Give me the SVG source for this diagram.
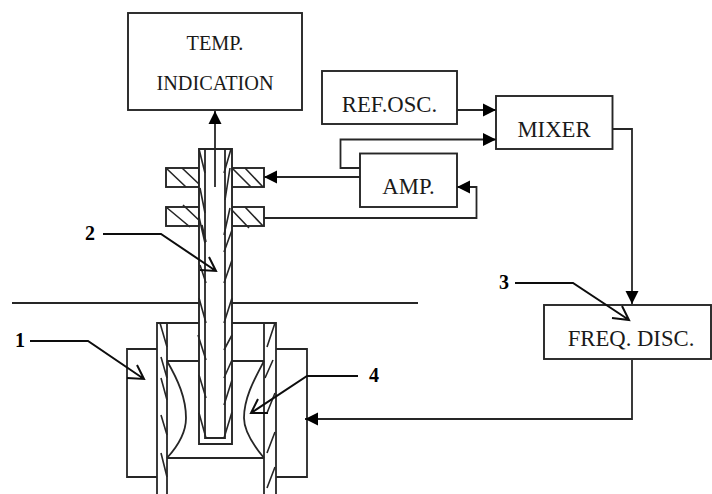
<svg xmlns="http://www.w3.org/2000/svg" width="712" height="494" viewBox="0 0 712 494">
<style>
.s{fill:none;stroke:#262626;stroke-width:1.8}
.b{fill:#fff;stroke:#262626;stroke-width:1.9}
.h{fill:none;stroke:#262626;stroke-width:1.6}
.l{fill:none;stroke:#0d0d0d;stroke-width:2}
.t{font-family:"Liberation Serif","Times New Roman",serif;font-size:22.700px;fill:#1a1a1a;text-anchor:middle}
.u{font-family:"Liberation Serif","Times New Roman",serif;font-size:20.300px;fill:#1a1a1a;text-anchor:middle}
.n{font-family:"Liberation Serif","Times New Roman",serif;font-size:20px;font-weight:bold;fill:#000;text-anchor:middle}
</style>
<defs>
<marker id="a" markerUnits="userSpaceOnUse" markerWidth="14" markerHeight="14" refX="13" refY="7" orient="auto"><path d="M0 0.500L13 7L0 13.500Z" fill="#000"/></marker>
</defs>
<rect width="712" height="494" fill="#fff"/>
<g id="ground-line"><path class="s" d="M12 303H199M232 303H418"/></g>
<g id="left-block"><path class="s" d="M157 349H127V477H157"/></g>
<g id="right-block"><path class="s" d="M276 349H307V477H276"/></g>
<g id="outer-tube">
<path class="s" d="M157 494V323H276V494M167 494V323M264 494V323M167 361H199M232 361H264M167 458H264"/>
<path class="h" d="M160 323L167 347M161 357L167 378M161 378L167 400M161 415L167 435M161 453L167 477M275 323L267 347M273 360L265 378M275 393L267 413M275 432L267 453M275 467L267 488"/>
<path class="s" d="M167 361C178 380 186 398 186 418C186 432 178 446 167 458M264 361C254 380 244 398 244 418C244 432 254 446 264 458"/>
</g>
<g id="upper-flange">
<rect class="b" x="166" y="168" width="33" height="19"/><rect class="b" x="232" y="168" width="32" height="19"/>
<path class="h" d="M166 168L186 187M182 168L200 185M232 168L251 187M245 168L263 187"/>
</g>
<g id="lower-flange">
<rect class="b" x="166" y="207" width="33" height="19"/><rect class="b" x="232" y="207" width="32" height="19"/>
<path class="h" d="M166 207L190 227M183 205L203 224M230 208L249 228M245 207L263 226"/>
</g>
<g id="probe">
<path class="b" d="M199 149H232V444H199Z"/>
<path class="s" d="M205 149V438H225V149"/>
<path class="h" d="M199 149L205 173M200 188L205 213M199 217L205 243M202 225L206 242M200 265L206 283M199 298L206 323M198 335L206 360M199 375L206 398M199 413L206 438M231 149L224 173M230 168L225 200M230 208L224 235M232 230L224 252M232 260L224 283M232 298L224 323M232 335L224 350M232 360L224 378M232 380L224 405M232 412L224 438"/>
</g>
<g id="temp-indication"><rect class="b" x="128" y="13" width="174" height="97"/>
<text class="u" x="215" y="50">TEMP.</text><text class="u" x="215" y="90">INDICATION</text></g>
<g id="ref-osc"><rect class="b" x="322" y="71" width="135" height="53"/><text class="t" x="389.500" y="112">REF.OSC.</text></g>
<g id="mixer"><rect class="b" x="496" y="96" width="116.500" height="53"/><text class="t" x="554" y="137">MIXER</text></g>
<g id="amp"><rect class="b" x="360" y="153.500" width="97" height="53.500"/><text class="t" x="408.500" y="194">AMP.</text></g>
<g id="freq-disc"><rect class="b" x="544" y="305" width="167" height="54"/><text class="t" x="631" y="346">FREQ. DISC.</text></g>
<g id="connectors">
<path class="s" d="M215 187V111" marker-end="url(#a)"/>
<path class="s" d="M457 110H496" marker-end="url(#a)"/>
<path class="s" d="M360 168H340.500V139.500H496" marker-end="url(#a)"/>
<path class="s" d="M360 177H264" marker-end="url(#a)"/>
<path class="s" d="M264 218H476.500V187H457" marker-end="url(#a)"/>
<path class="s" d="M612 129H632V304" marker-end="url(#a)"/>
<path class="s" d="M632 360V419H305" marker-end="url(#a)"/>
<path class="l" d="M30 341H88L144 379M137 365L144 379L127 378"/>
<path class="l" d="M103 234H161L216 271M209 257L216 271L200 270"/>
<path class="l" d="M515 283H573L629 320M622 306L629 320L612 318"/>
<path class="l" d="M358 376H307L251 413M258 399L251 413L268 413"/>
</g>
<g id="labels">
<text class="n" x="20" y="347">1</text><text class="n" x="90" y="240">2</text><text class="n" x="504" y="289">3</text><text class="n" x="374" y="382">4</text>
</g>
</svg>
